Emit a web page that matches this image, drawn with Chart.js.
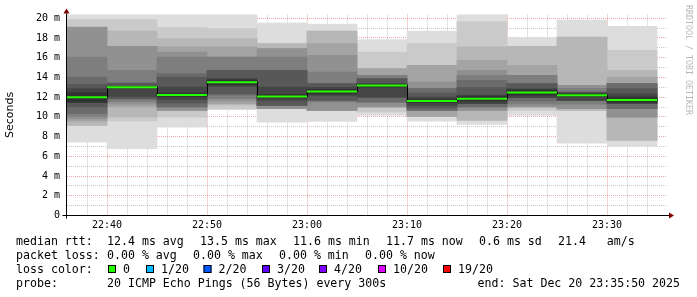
<!DOCTYPE html>
<html>
<head>
<meta charset="utf-8">
<script src="https://cdn.jsdelivr.net/npm/chart.js@4.4.1/dist/chart.umd.min.js"></script>
<style>
html,body{margin:0;padding:0;background:#fff;overflow:hidden}
canvas{display:block}
</style>
</head>
<body>
<canvas id="c" width="697" height="297"></canvas>
<script>
// ---- data (minutes after 22:00, values in ms) ----
const slotStart = [35, 40, 45, 50, 55, 60, 65, 70, 75, 80, 85, 90];
const medianRtt = [11.98, 13.0, 12.21, 13.5, 12.07, 12.57, 13.17, 11.62, 11.85, 12.48, 12.2, 11.72];

// 20 sorted ping times per 5-minute slot
const pings2235 = [7.44, 9.12, 9.14, 9.57, 9.8, 10.05, 10.32, 11.0, 11.45, 11.5, 12.46, 12.86, 13.3, 14.04, 16.07, 19.05, 19.1, 19.12, 19.87, 21.0];
const pings2240 = [6.77, 9.6, 9.98, 11.0, 11.3, 11.55, 11.8, 11.85, 12.08, 12.92, 13.08, 13.1, 13.43, 13.43, 14.72, 17.16, 17.16, 18.71, 19.87, 21.0];
const pings2245 = [8.96, 9.98, 10.62, 10.66, 10.66, 11.0, 11.0, 11.4, 11.75, 12.02, 12.4, 13.03, 14.04, 14.38, 16.07, 16.58, 17.09, 17.94, 19.05, 21.0];
const pings2250 = [10.73, 10.83, 11.2, 11.34, 11.6, 11.85, 12.2, 12.35, 13.1, 13.25, 13.75, 13.9, 14.72, 14.72, 16.07, 16.07, 17.09, 17.94, 18.95, 21.0];
const pings2255 = [9.47, 10.83, 10.83, 10.83, 10.83, 11.17, 11.17, 11.17, 11.68, 11.89, 12.25, 13.03, 14.72, 14.72, 16.07, 16.92, 16.92, 17.43, 17.43, 19.52];
const pings2300 = [9.55, 10.66, 10.66, 10.66, 10.66, 11.5, 11.68, 11.68, 12.18, 12.34, 12.8, 13.0, 13.37, 13.37, 14.55, 16.24, 17.43, 18.71, 18.71, 19.42];
const pings2305 = [10.15, 10.49, 11.0, 11.0, 11.0, 11.5, 11.5, 12.01, 12.01, 13.04, 13.3, 13.37, 13.88, 13.88, 14.21, 14.21, 14.89, 14.89, 16.58, 17.84];
const pings2310 = [9.57, 10.05, 10.05, 10.05, 10.66, 10.66, 10.66, 10.9, 11.17, 11.44, 11.8, 12.01, 12.4, 12.86, 12.86, 13.54, 15.23, 15.23, 17.43, 18.71];
const pings2315 = [9.24, 9.64, 9.64, 10.66, 10.66, 11.0, 11.0, 11.34, 11.34, 11.6, 12.1, 12.2, 12.96, 13.71, 14.2, 14.72, 15.74, 17.09, 19.63, 21.0];
const pings2320 = [10.15, 10.66, 11.0, 11.0, 11.0, 11.3, 11.6, 11.95, 11.95, 12.21, 12.75, 12.85, 13.37, 13.37, 14.21, 14.21, 15.23, 17.16, 17.16, 18.04];
const pings2325 = [7.34, 10.66, 10.66, 10.83, 10.83, 11.3, 11.68, 11.68, 11.68, 12.1, 12.3, 12.4, 12.52, 12.52, 12.9, 13.2, 13.2, 18.1, 18.1, 19.82];
const pings2330 = [7.0, 7.61, 7.61, 9.98, 9.98, 10.83, 10.83, 11.34, 11.34, 11.44, 12.0, 12.3, 12.86, 13.37, 13.37, 13.37, 14.0, 14.72, 16.75, 19.19];
const pingSlots = [pings2235, pings2240, pings2245, pings2250, pings2255, pings2300,
                   pings2305, pings2310, pings2315, pings2320, pings2325, pings2330];

const xTickValues = [40, 50, 60, 70, 80, 90];
const xTickLabels = ['22:40', '22:50', '23:00', '23:10', '23:20', '23:30'];
const yTickValues = [0, 2, 4, 6, 8, 10, 12, 14, 16, 18, 20];
const yTickLabels = ['0', '2 m', '4 m', '6 m', '8 m', '10 m', '12 m', '14 m', '16 m', '18 m', '20 m'];

const legendMedian = ['median rtt:', '12.4 ms avg', '13.5 ms max', '11.6 ms min', '11.7 ms now', '0.6 ms sd', '21.4   am/s'];
const legendLoss = ['packet loss:', '0.00 % avg', '0.00 % max', '0.00 % min', '0.00 % now'];
const lossLabels = ['0', '1/20', '2/20', '3/20', '4/20', '10/20', '19/20'];
const lossColors = ['#26ff00', '#00b8ff', '#0059ff', '#5e00ff', '#7e00ff', '#dd00ff', '#ff0000'];
const probeTitle = 'probe:';
const probeText = '20 ICMP Echo Pings (56 Bytes) every 300s';
const endText = 'end: Sat Dec 20 23:35:50 2025';
const watermark = 'RRDTOOL / TOBI OETIKER';

// ---- layout / style ----
const SLOT = 5;
const EPS = 1e-6; // keeps grid lines on the same pixel column as the bar edges
const MONO = '"DejaVu Sans Mono", monospace';
const MGRID = 'rgba(222,80,80,0.5)';
const GRID = 'rgba(143,143,143,0.5)';
const lossBoxX = [108, 146, 203.5, 262, 319, 378, 443];

const minorX = [];
for (let v = 38; v < 96; v += 2) if (v % 10 !== 0) minorX.push(v);
const yGridValues = [];
for (let v = 0; v <= 20; v++) yGridValues.push(v);

const datasets = [];
for (let k = 1; k <= 10; k++) {
  const g = 19 * (10 - k) + 50;
  datasets.push({
    type: 'bar',
    data: pingSlots.map((p, i) => ({ x: slotStart[i] + SLOT / 2, y: [p[k - 1], p[20 - k]] })),
    backgroundColor: `rgb(${g},${g},${g})`,
    borderWidth: 0,
    barPercentage: 1,
    categoryPercentage: 1,
    grouped: false,
    order: 20 - k
  });
}
const stepPts = [];
const greenPts = [];
slotStart.forEach((s, i) => {
  stepPts.push({ x: s, y: medianRtt[i] }, { x: s + SLOT, y: medianRtt[i] });
  if (i) greenPts.push({ x: s, y: null });
  greenPts.push({ x: s, y: medianRtt[i] }, { x: s + SLOT, y: medianRtt[i] });
});
const STEP_INDEX = datasets.length;
datasets.push({ type: 'line', data: stepPts, borderColor: '#000', borderWidth: 1, pointRadius: 0, tension: 0, order: 2 });
datasets.push({ type: 'line', data: greenPts, borderColor: lossColors[0], borderWidth: 2, pointRadius: 0, tension: 0, spanGaps: false, borderCapStyle: 'butt', order: 1 });

const crisp = {
  id: 'crisp',
  beforeDatasetDraw(chart, args) {
    if (args.index === STEP_INDEX) { chart.ctx.save(); chart.ctx.translate(0.5, 0); }
  },
  afterDatasetDraw(chart, args) {
    if (args.index === STEP_INDEX) chart.ctx.restore();
  }
};

const deco = {
  id: 'deco',
  afterDraw(chart) {
    const { ctx, chartArea: a, scales: { x, y } } = chart;
    const x0 = Math.round(x.getPixelForValue(x.min)) - 0.5;
    const y0 = Math.floor(y.getPixelForValue(0)) + 0.5;
    ctx.save();
    ctx.strokeStyle = '#000';
    ctx.lineWidth = 1;
    ctx.beginPath();
    ctx.moveTo(x0 - 4, y0); ctx.lineTo(a.right + 2, y0);
    ctx.moveTo(x0, y0 + 3); ctx.lineTo(x0, a.top - 1);
    ctx.stroke();
    ctx.fillStyle = '#7f0000';
    ctx.beginPath();
    ctx.moveTo(x0 - 3, a.top - 1); ctx.lineTo(x0 + 3, a.top - 1); ctx.lineTo(x0, a.top - 6);
    ctx.closePath(); ctx.fill();
    ctx.beginPath();
    ctx.moveTo(a.right + 2, y0 - 3); ctx.lineTo(a.right + 2, y0 + 3); ctx.lineTo(a.right + 7, y0);
    ctx.closePath(); ctx.fill();

    // watermark
    ctx.save();
    ctx.translate(686, 5);
    ctx.rotate(Math.PI / 2);
    ctx.font = '8.3px ' + MONO;
    ctx.fillStyle = '#b8b8b8';
    ctx.textBaseline = 'middle';
    ctx.textAlign = 'left';
    ctx.fillText(watermark, 0, -2);
    ctx.restore();

    // legend
    ctx.font = '11.6px ' + MONO;
    ctx.fillStyle = '#000';
    ctx.textBaseline = 'middle';
    ctx.textAlign = 'left';
    const cw = 7;
    let px = 107;
    ctx.fillText(legendMedian[0], 16, 241.5);
    for (let i = 1; i < legendMedian.length; i++) {
      ctx.fillText(legendMedian[i], px, 241.5);
      px += legendMedian[i].length * cw + 16;
    }
    px = 107;
    ctx.fillText(legendLoss[0], 16, 255.5);
    for (let i = 1; i < legendLoss.length; i++) {
      ctx.fillText(legendLoss[i], px, 255.5);
      px += legendLoss[i].length * cw + 16;
    }
    ctx.fillText('loss color:', 16, 269.5);
    lossLabels.forEach((lab, i) => {
      const bx = lossBoxX[i];
      ctx.fillStyle = lossColors[i];
      ctx.fillRect(bx, 265, 8, 8);
      ctx.strokeStyle = '#000';
      ctx.strokeRect(bx + 0.5, 265.5, 7, 7);
      ctx.fillStyle = '#000';
      ctx.fillText(lab, bx + 15, 269.5);
    });
    ctx.fillText(probeTitle, 16, 283.5);
    ctx.fillText(probeText, 107, 283.5);
    ctx.textAlign = 'right';
    ctx.fillText(endText, 680, 283.5);
    ctx.restore();
  }
};

new Chart(document.getElementById('c'), {
  type: 'bar',
  data: { datasets },
  plugins: [crisp, deco],
  options: {
    responsive: false,
    animation: false,
    devicePixelRatio: 1,
    events: [],
    layout: { padding: { left: 0, top: 14.5, right: 30, bottom: 0 } },
    plugins: { legend: { display: false }, tooltip: { enabled: false }, title: { display: false } },
    scales: {
      x: {
        type: 'linear', min: 36, max: 96, offset: false, position: 'bottom', z: 1,
        afterBuildTicks: s => { s.ticks = xTickValues.map(v => ({ value: v + EPS })); },
        afterFit: s => { s.height = 81.5; },
        grid: { offset: false, color: MGRID, lineWidth: 1, drawTicks: false },
        border: { display: false, dash: [1, 1] },
        ticks: {
          autoSkip: false, maxRotation: 0, padding: 4, color: '#000',
          font: { family: MONO, size: 10 },
          callback: v => { const i = xTickValues.indexOf(Math.round(v)); return i >= 0 ? xTickLabels[i] : ''; }
        }
      },
      x2: {
        type: 'linear', min: 36, max: 96, offset: false, position: 'bottom', z: 1,
        afterBuildTicks: s => { s.ticks = minorX.map(v => ({ value: v + EPS })); },
        afterFit: s => { s.height = 0; },
        grid: { offset: false, color: GRID, lineWidth: 1, drawTicks: false },
        border: { display: false, dash: [1, 1] },
        ticks: { display: false, autoSkip: false }
      },
      y: {
        type: 'linear', min: 0, max: 20.38, z: 1,
        afterBuildTicks: s => { s.ticks = yGridValues.map(v => ({ value: v })); },
        afterFit: s => { s.width = 67; },
        grid: { color: c => (c.tick && c.tick.value % 2 === 0) ? MGRID : GRID, lineWidth: 1, drawTicks: false },
        border: { display: false, dash: [1, 1] },
        ticks: {
          autoSkip: false, padding: 7, color: '#000',
          font: { family: MONO, size: 10 },
          callback: v => { const i = yTickValues.indexOf(v); return i >= 0 ? yTickLabels[i] : ''; }
        },
        title: { display: true, text: 'Seconds', color: '#000', font: { family: '"DejaVu Sans", sans-serif', size: 11 }, padding: { top: 4, bottom: 0 } }
      }
    }
  }
});
</script>
</body>
</html>
